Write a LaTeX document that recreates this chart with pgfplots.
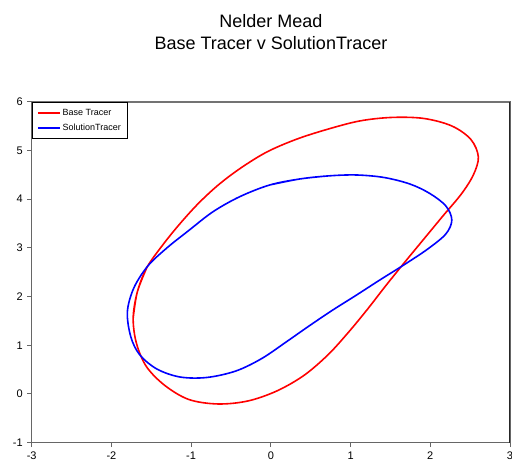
\documentclass[border=0pt]{standalone}
\usepackage{fontspec}
\setmainfont{Liberation Sans}
\usepackage{pgfplots}
\pgfplotsset{compat=1.18}
\begin{document}
\begin{tikzpicture}[x=1pt,y=1pt]
\begin{axis}[
  name=ax,
  at={(0,0)}, anchor=south west,
  scale only axis, width=478.3pt, height=341pt,
  xmin=-3, xmax=3, ymin=-1, ymax=6,
  xtick={-3,-2,-1,0,1,2,3}, ytick={-1,0,1,2,3,4,5,6},
  xtick pos=bottom, ytick pos=left, tick align=outside, major tick length=4.5pt,
  tick style={black!60, line width=1pt},
  axis line style={black!60, line width=1pt},
  /pgf/number format/assume math mode=true,
  ticklabel style={font=\fontsize{11}{13}\selectfont},
  xticklabel style={yshift=-1pt},
  yticklabel style={xshift=-1pt},
  legend style={at={(0,1)}, anchor=north west, draw=black, line width=0.8pt,
    font=\fontsize{9}{11}\selectfont, inner xsep=5pt, inner ysep=5pt,
    row sep=3pt},
  legend cell align=left,
  legend image code/.code={\draw[#1, line width=1.5pt] (0pt,0pt) -- (22pt,0pt);},
  clip=false,
]
\addplot[black!55, line width=1.6pt, forget plot] coordinates {(-3,5.995) (2.995,5.995)};
\addplot[black!85, line width=1.6pt, forget plot] coordinates {(2.995,-1) (2.995,5.995)};
\addplot[red, line width=1.6pt, smooth, tension=0.55] coordinates {
(-1.727,1.560)
(-1.675,2.094) (-1.555,2.597) (-1.361,3.049) (-1.154,3.469) (-0.916,3.900)
(-0.659,4.291) (-0.376,4.640) (-0.050,4.968) (0.314,5.225) (0.702,5.430)
(1.116,5.605) (1.518,5.677) (1.919,5.656) (2.270,5.502) (2.509,5.225)
(2.603,4.866) (2.540,4.496) (2.390,4.106) (2.164,3.665) (1.925,3.192)
(1.687,2.720) (1.449,2.238) (1.210,1.735) (0.966,1.252) (0.715,0.801)
(0.414,0.380) (0.075,0.062) (-0.289,-0.144) (-0.665,-0.205) (-1.029,-0.113)
(-1.330,0.175) (-1.562,0.565) (-1.687,1.047) (-1.727,1.560)
(-1.675,2.094) (-1.555,2.597)
};
\addlegendentry{Base Tracer}
\addplot[blue, line width=1.6pt, smooth, tension=0.55] coordinates {
(-0.013,4.291)
(0.364,4.414) (0.715,4.476) (1.066,4.496) (1.417,4.445) (1.743,4.311)
(1.994,4.116) (2.195,3.860) (2.270,3.572) (2.195,3.285) (1.969,2.977)
(1.668,2.649) (1.367,2.340) (1.066,2.022) (0.778,1.725) (0.489,1.407)
(0.201,1.078) (-0.113,0.729) (-0.439,0.472) (-0.803,0.339) (-1.141,0.349)
(-1.430,0.513) (-1.643,0.801) (-1.756,1.170) (-1.800,1.683) (-1.719,2.176)
(-1.543,2.628) (-1.305,2.997) (-1.029,3.357) (-0.724,3.743) (-0.389,4.051)
(-0.013,4.291) (0.364,4.414) (0.715,4.476)
};
\addlegendentry{SolutionTracer}
\end{axis}
\node[align=center, font=\fontsize{18}{22}\selectfont, anchor=center] at (239.3pt,411pt) {Nelder Mead\\Base Tracer v SolutionTracer};
\pgfresetboundingbox
\path (-31.7pt,-25.3pt) rectangle (480.3pt,442.7pt);
\end{tikzpicture}
\end{document}
